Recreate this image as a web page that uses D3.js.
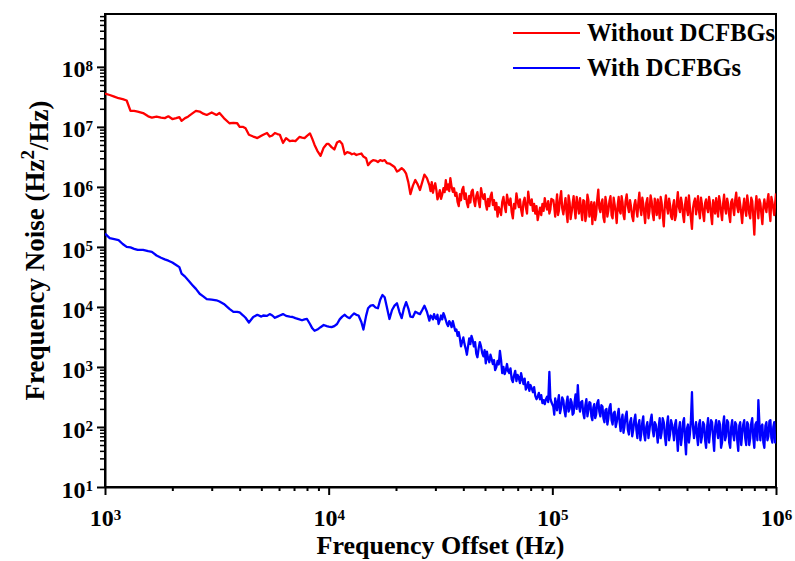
<!DOCTYPE html>
<html>
<head>
<meta charset="utf-8">
<script src="https://cdn.jsdelivr.net/npm/d3@7"></script>
<style>
  body { margin: 0; background: #fff; }
  svg text { font-family: "Liberation Serif", "Times New Roman", serif; font-weight: bold; fill: #000; }
</style>
</head>
<body>
<div id="chart"></div>
<script>
// frequency offset samples (Hz), shared by both traces
const freq_hz = [
    1000, 1050, 1100, 1150, 1200, 1250, 1300, 1350, 1400, 1480,
    1560, 1620, 1700, 1780, 1850, 1920, 2000, 2080, 2150, 2200,
    2280, 2350, 2450, 2550, 2650, 2750, 2850, 3000, 3150, 3250,
    3400, 3600, 3750, 3900, 4000, 4150, 4250, 4400, 4600, 4800,
    5000, 5100, 5300, 5450, 5600, 5750, 5900, 6050, 6250, 6450,
    6700, 6900, 7100, 7400, 7600, 7800, 8000, 8250, 8450, 8650,
    8900, 9200, 9500, 9800,
    10000, 10300, 10600, 10900, 11200, 11500, 11800, 12100, 12400, 12700,
    13000, 13300, 13600, 14000, 14300, 14700, 15000, 15400, 15800, 16200,
    16600, 17000, 17400, 17800, 18200, 18700, 19200, 19700, 20200, 20700,
    21200, 21700, 22200, 22700, 23200, 23800, 24400, 25000, 25600, 26200,
    26800, 27500, 28200, 28900, 29600, 30300, 31000, 31800, 32600, 33400,
    34200, 35000, 35900, 36800, 37700, 38600, 39500, 40500, 41500, 42500,
    43500, 44600, 45700, 46800, 48000, 49200, 50400, 51600, 52900, 54200,
    55500, 56900, 58300, 59700, 61200, 62700, 64200, 65800, 67400, 69100,
    70800, 72500, 74300, 76100, 78000, 79900, 81900, 83900, 86000, 88100,
    90300, 92500, 94700, 97000, 99000,
    101000, 103000, 105000, 107000, 109500, 112000, 114500, 117000, 119500, 122000,
    124500, 127000, 130000, 133000, 136000, 139000, 142000, 145000, 148000, 151000,
    154000, 157000, 160500, 164000, 167500, 171000, 174500, 178000, 182000, 186000,
    190000, 194000, 198000, 202000, 206000, 210000, 215000, 220000, 225000, 230000,
    235000, 240000, 245000, 250000, 255000, 260000, 266000, 272000, 278000, 284000,
    290000, 296000, 302000, 308000, 315000, 322000, 329000, 336000, 343000, 350000,
    357000, 364000, 372000, 380000, 388000, 396000, 404000, 412000, 421000, 430000,
    439000, 448000, 457000, 467000, 477000, 487000, 497000, 507000, 518000, 529000,
    540000, 551000, 562000, 574000, 586000, 598000, 611000, 624000, 637000, 650000,
    664000, 678000, 692000, 706000, 721000, 736000, 751000, 767000, 783000, 800000,
    817000, 834000, 851000, 869000, 887000, 906000, 925000, 944000, 963000, 982000,
    1000000
];

// frequency noise without DCFBGs (Hz^2/Hz)
const noise_without = [
    3.6e7, 3.4e7, 3.2e7, 3.0e7, 2.9e7, 2.75e7, 1.85e7, 1.85e7, 1.8e7, 1.7e7,
    1.5e7, 1.43e7, 1.48e7, 1.43e7, 1.4e7, 1.5e7, 1.35e7, 1.4e7, 1.45e7, 1.26e7,
    1.4e7, 1.48e7, 1.66e7, 1.85e7, 1.8e7, 1.66e7, 1.58e7, 1.74e7, 1.58e7, 1.7e7,
    1.4e7, 1.15e7, 1.17e7, 1.15e7, 1.0e7, 1.0e7, 9.5e6, 7.4e6, 6.9e6, 6.5e6,
    7.1e6, 7.4e6, 7.9e6, 6.9e6, 7.2e6, 7.9e6, 7.6e6, 7.4e6, 5.4e6, 6.5e6,
    5.8e6, 5.9e6, 5.8e6, 6.8e6, 6.6e6, 6.5e6, 7.1e6, 7.8e6, 6.3e6, 5.0e6,
    4.0e6, 3.3e6, 4.5e6, 5.2e6,
    5.2e6, 4.6e6, 4.2e6, 5.5e6, 5.8e6, 5.2e6, 3.5e6, 3.8e6, 3.7e6, 3.5e6,
    3.6e6, 3.4e6, 3.5e6, 3.6e6, 3.2e6, 3.0e6, 2.3e6, 2.6e6, 2.8e6, 2.75e6,
    2.6e6, 2.8e6, 2.7e6, 2.8e6, 2.5e6, 2.45e6, 2.3e6, 2.15e6, 1.8e6, 1.9e6,
    2.05e6, 1.9e6, 1.66e6, 1.2e6, 7.6e5, 1.05e6, 1.3e6, 1.1e6, 8.9e5, 1.2e6,
    1.6e6, 1.4e6, 1.07e6, 1.2e6, 1.0e6, 8.9e5, 7.1e5, 6.3e5, 9.5e5, 1.3e6,
    1.1e6, 1.4e6, 8.3e5, 7.1e5, 5.6e5, 7.6e5, 8.9e5, 6.3e5, 5.4e5, 7.1e5,
    8.3e5, 6.0e5, 7.1e5, 5.8e5, 9.5e5, 6.3e5, 5.2e5, 6.3e5, 6.9e5, 5.0e5,
    4.2e5, 3.2e5, 4.0e5, 5.6e5, 4.8e5, 7.4e5, 5.0e5, 3.8e5, 5.2e5, 7.8e5,
    4.6e5, 4.2e5, 5.6e5, 4.6e5, 8.3e5, 5.0e5, 4.0e5, 3.6e5, 2.8e5, 4.5e5,
    5.2e5, 6.5e5, 4.2e5, 3.6e5, 6.3e5,
    6.0e5, 3.2e5, 7.5e5, 4.0e5, 8.5e5, 3.5e5, 6.5e5, 2.6e5, 5.5e5, 3.8e5,
    7.0e5, 3.0e5, 5.0e5, 6.5e5, 2.8e5, 5.8e5, 3.4e5, 6.0e5, 4.2e5, 2.4e5,
    5.5e5, 3.5e5, 9.0e5, 3.8e5, 6.2e5, 2.6e5, 5.2e5, 4.0e5, 7.0e5, 3.0e5,
    5.0e5, 2.5e5, 6.8e5, 3.6e5, 5.5e5, 2.9e5, 7.5e5, 3.8e5, 4.6e5, 2.7e5,
    6.0e5, 3.2e5, 8.0e5, 3.4e5, 5.2e5, 2.5e5, 6.5e5, 4.0e5, 5.8e5, 2.8e5,
    4.8e5, 6.2e5, 3.0e5, 5.5e5, 2.2e5, 7.2e5, 3.6e5, 5.0e5, 2.9e5, 6.0e5,
    3.3e5, 8.2e5, 3.8e5, 5.2e5, 2.6e5, 6.6e5, 3.4e5, 4.6e5, 2.0e5, 5.6e5,
    3.5e5, 7.0e5, 3.0e5, 5.0e5, 2.7e5, 6.2e5, 3.8e5, 5.4e5, 2.4e5, 4.8e5,
    6.5e5, 3.2e5, 5.6e5, 2.8e5, 7.4e5, 3.6e5, 5.2e5, 2.6e5, 6.2e5, 3.4e5,
    8.0e5, 3.8e5, 5.0e5, 2.5e5, 6.4e5, 3.3e5, 5.4e5, 3.0e5, 5.8e5, 1.6e5,
    7.0e5, 3.0e5, 5.4e5, 2.4e5, 6.2e5, 3.8e5, 7.6e5, 2.7e5, 5.6e5, 3.4e5,
    7.8e5
];

// frequency noise with DCFBGs (Hz^2/Hz)
const noise_with = [
    1.66e5, 1.4e5, 1.35e5, 1.3e5, 1.12e5, 1.0e5, 9.8e4, 9.3e4, 8.9e4, 8.9e4,
    8.5e4, 8.3e4, 7.2e4, 6.6e4, 6.2e4, 5.9e4, 5.5e4, 5.0e4, 4.6e4, 3.6e4,
    3.2e4, 2.8e4, 2.35e4, 2.0e4, 1.66e4, 1.5e4, 1.35e4, 1.32e4, 1.29e4, 1.23e4,
    1.12e4, 9.3e3, 8.3e3, 8.3e3, 8.1e3, 7.2e3, 6.6e3, 5.5e3, 6.8e3, 7.4e3,
    6.9e3, 7.2e3, 7.1e3, 7.6e3, 7.2e3, 6.6e3, 6.9e3, 7.2e3, 7.6e3, 7.1e3,
    6.9e3, 6.8e3, 6.5e3, 6.2e3, 6.0e3, 6.2e3, 6.3e3, 5.2e3, 4.4e3, 4.0e3,
    4.2e3, 4.6e3, 5.0e3, 4.8e3,
    4.7e3, 4.6e3, 4.8e3, 5.2e3, 6.2e3, 6.9e3, 7.4e3, 6.8e3, 6.5e3, 7.2e3,
    7.8e3, 7.4e3, 7.2e3, 5.6e3, 4.2e3, 7.1e3, 9.5e3, 1.05e4, 1.07e4, 9.8e3,
    9.5e3, 1.32e4, 1.58e4, 1.45e4, 1.0e4, 6.3e3, 8.9e3, 1.05e4, 1.15e4, 8.3e3,
    6.5e3, 9.5e3, 1.2e4, 9.5e3, 6.9e3, 6.8e3, 8.3e3, 7.9e3, 7.6e3, 8.9e3,
    1.05e4, 8.3e3, 5.9e3, 6.9e3, 7.6e3, 6.3e3, 5.2e3, 7.2e3, 7.9e3, 6.0e3,
    4.8e3, 5.4e3, 5.8e3, 4.0e3, 3.3e3, 3.0e3, 2.6e3, 2.4e3, 1.6e3, 3.0e3,
    3.3e3, 2.2e3, 1.66e3, 2.0e3, 2.2e3, 1.5e3, 1.15e3, 1.4e3, 1.6e3, 1.12e3,
    8.9e2, 1.26e3, 1.86e3, 7.9e2, 7.6e2, 1.12e3, 7.9e2, 6.3e2, 7.2e2, 5.8e2,
    6.6e2, 7.9e2, 5.2e2, 4.2e2, 5.6e2, 5.0e2, 3.8e2, 3.3e2, 3.2e2, 2.9e2,
    2.5e2, 2.4e2, 3.2e2, 8.3e2, 2.6e2,
    2.2e2, 3.0e2, 1.9e2, 3.4e2, 2.1e2, 2.8e2, 1.5e2, 3.2e2, 2.0e2, 2.6e2,
    1.7e2, 3.5e2, 5.0e2, 1.8e2, 2.7e2, 1.4e2, 2.9e2, 1.9e2, 2.5e2, 1.3e2,
    2.4e2, 1.6e2, 2.8e2, 1.5e2, 2.2e2, 1.2e2, 2.0e2, 1.4e2, 2.4e2, 1.1e2,
    1.8e2, 1.2e2, 2.0e2, 8.5e1, 1.6e2, 1.0e2, 1.8e2, 7.5e1, 1.4e2, 9.0e1,
    1.6e2, 6.5e1, 1.3e2, 8.0e1, 1.5e2, 6.0e1, 1.2e2, 9.0e1, 1.6e2, 7.0e1,
    1.1e2, 5.5e1, 1.4e2, 8.0e1, 1.2e2, 5.0e1, 1.5e2, 7.5e1, 1.1e2, 6.0e1,
    1.3e2, 4.0e1, 1.2e2, 7.0e1, 1.4e2, 3.5e1, 1.1e2, 7.5e1, 3.8e2, 6.5e1,
    1.2e2, 5.0e1, 1.3e2, 7.0e1, 1.1e2, 4.5e1, 1.4e2, 8.0e1, 1.2e2, 4.0e1,
    1.3e2, 6.5e1, 1.1e2, 5.5e1, 1.5e2, 7.0e1, 1.2e2, 4.5e1, 1.3e2, 6.0e1,
    1.1e2, 4.0e1, 1.2e2, 7.5e1, 1.3e2, 5.0e1, 1.1e2, 6.5e1, 1.4e2, 4.5e1,
    1.2e2, 2.8e2, 6.0e1, 1.1e2, 4.5e1, 1.2e2, 7.0e1, 1.3e2, 5.5e1, 1.2e2,
    7.5e1
];

// extra samples in between, where both traces are noisy (Hz)
const freq_hz_fill = [
    28550, 29250, 29950, 30650, 31400, 32200, 33000, 33800, 34600, 35450,
    36350, 37250, 38150, 39050, 40000, 41000, 42000, 43000, 44050, 45150,
    46250, 47400, 48600, 49800, 51000, 52250, 53550, 54850, 56200, 57600,
    59000, 60450, 61950, 63450, 65000, 66600, 68250, 69950, 71650, 73400,
    75200, 77050, 78950, 80900, 82900, 84950, 87050, 89200, 91400, 93600,
    95850, 98000,
    102000, 104000, 106000, 108200, 110700, 113200, 115700, 118200, 120700, 123200,
    125700, 128500, 131500, 134500, 137500, 140500, 143500, 146500, 149500, 152500,
    155500, 158700, 162200, 165700, 169200, 172700, 176200, 180000, 184000, 188000,
    192000, 196000, 200000, 204000, 208000, 212500, 217500, 222500, 227500, 232500,
    237500, 242500, 247500, 252500, 257500, 263000, 269000, 275000, 281000, 287000,
    293000, 299000, 305000, 311500, 318500, 325500, 332500, 339500, 346500, 353500,
    360500, 368000, 376000, 384000, 392000, 400000, 408000, 416500, 425500, 434500,
    443500, 452500, 462000, 472000, 482000, 492000, 502000, 512500, 523500, 534500,
    545500, 556500, 568000, 580000, 592000, 604500, 617500, 630500, 643500, 657000,
    671000, 685000, 699000, 713500, 728500, 743500, 759000, 775000, 791500, 808500,
    825500, 842500, 860000, 878000, 896500, 915500, 934500, 953500, 972500, 991000
];

const noise_without_fill = [
    8.5e5, 8.0e5, 1.15e6, 6.2e5, 8.8e5, 7.5e5, 8.2e5, 9.0e5, 8.5e5, 1.0e6,
    9.5e5, 8.0e5, 4.8e5, 6.0e5, 1.0e6, 7.8e5, 4.6e5, 5.5e5, 9.0e5, 4.8e5,
    8.2e5, 4.6e5, 7.2e5, 7.6e5, 4.2e5, 4.8e5, 8.0e5, 6.0e5, 5.4e5, 4.6e5,
    3.4e5, 6.8e5, 3.8e5, 5.8e5, 6.4e5, 3.0e5, 4.4e5, 5.8e5, 6.2e5, 3.3e5,
    6.6e5, 3.6e5, 5.8e5, 6.2e5, 5.2e5, 4.8e5, 3.6e5, 3.4e5, 4.0e5, 5.0e5,
    5.8e5, 4.2e5,
    4.6e5, 5.0e5, 3.4e5, 6.2e5, 4.4e5, 4.8e5, 3.8e5, 7.2e5, 2.9e5, 5.2e5,
    4.4e5, 6.8e5, 3.6e5, 4.2e5, 6.0e5, 2.7e5, 7.4e5, 3.2e5, 5.6e5, 4.6e5,
    2.8e5, 6.0e5, 4.4e5, 5.4e5, 3.1e5, 6.8e5, 3.2e5, 5.8e5, 3.4e5, 6.6e5,
    3.8e5, 5.0e5, 4.0e5, 7.0e5, 3.4e5, 5.8e5, 4.8e5, 6.0e5, 3.2e5, 5.0e5,
    4.2e5, 5.6e5, 4.4e5, 6.6e5, 3.6e5, 5.4e5, 3.0e5, 7.2e5, 3.6e5, 6.4e5,
    3.4e5, 4.4e5, 6.8e5, 3.4e5, 5.0e5, 4.6e5, 6.4e5, 3.2e5, 4.8e5, 2.8e5,
    5.6e5, 4.6e5, 6.6e5, 3.4e5, 5.0e5, 4.2e5, 7.2e5, 3.0e5, 4.4e5, 6.4e5,
    4.8e5, 4.0e5, 6.6e5, 3.6e5, 5.4e5, 4.4e5, 6.8e5, 3.4e5, 6.0e5, 3.6e5,
    4.6e5, 7.0e5, 3.8e5, 5.2e5, 4.4e5, 6.4e5, 3.4e5, 5.6e5, 4.4e5, 6.0e5,
    4.6e5, 6.6e5, 3.6e5, 4.6e5, 4.2e5, 7.2e5, 3.6e5, 6.6e5, 3.2e5, 4.4e5,
    4.8e5, 6.2e5, 3.6e5, 4.6e5, 4.6e5, 5.8e5, 4.0e5, 6.8e5, 4.4e5, 5.2e5
];

const noise_with_fill = [
    7.2e3, 6.2e3, 6.6e3, 7.4e3, 6.0e3, 6.2e3, 7.0e3, 5.2e3, 5.8e3, 4.6e3,
    4.8e3, 4.2e3, 3.8e3, 2.2e3, 3.1e3, 2.0e3, 2.2e3, 2.4e3, 2.8e3, 2.6e3,
    1.45e3, 2.6e3, 1.7e3, 1.9e3, 1.8e3, 1.2e3, 1.35e3, 1.3e3, 1.0e3, 1.1e3,
    1.3e3, 1.0e3, 8.8e2, 8.5e2, 9.5e2, 5.6e2, 8.6e2, 7.4e2, 5.4e2, 6.3e2,
    6.4e2, 4.6e2, 4.0e2, 4.4e2, 4.6e2, 2.9e2, 3.7e2, 3.4e2, 2.8e2, 2.9e2,
    2.6e2, 3.0e2,
    1.6e2, 2.4e2, 2.7e2, 1.7e2, 3.1e2, 1.9e2, 2.5e2, 1.8e2, 2.9e2, 1.6e2,
    2.6e2, 2.0e2, 2.3e2, 2.6e2, 1.7e2, 2.3e2, 1.5e2, 2.6e2, 1.5e2, 2.1e2,
    1.4e2, 2.5e2, 1.8e2, 2.3e2, 1.4e2, 1.9e2, 1.1e2, 2.1e2, 1.3e2, 1.7e2,
    1.0e2, 1.6e2, 1.2e2, 1.3e2, 8.0e1, 1.5e2, 9.0e1, 1.2e2, 7.0e1, 1.3e2,
    9.0e1, 1.1e2, 6.0e1, 1.2e2, 7.5e1, 1.0e2, 6.5e1, 1.3e2, 9.0e1, 1.2e2,
    8.0e1, 1.0e2, 6.5e1, 1.4e2, 7.0e1, 1.1e2, 6.0e1, 1.3e2, 8.5e1, 1.1e2,
    7.0e1, 9.0e1, 5.0e1, 1.2e2, 6.0e1, 9.5e1, 5.5e1, 1.3e2, 1.0e2, 9.5e1,
    7.0e1, 1.1e2, 5.5e1, 1.2e2, 6.0e1, 1.0e2, 5.5e1, 1.3e2, 6.5e1, 1.0e2,
    8.5e1, 1.25e2, 4.5e1, 1.1e2, 6.0e1, 1.3e2, 5.5e1, 1.0e2, 7.5e1, 1.2e2,
    6.0e1, 1.05e2, 5.0e1, 1.1e2, 6.5e1, 1.2e2, 5.0e1, 1.15e2, 6.5e1, 1.1e2,
    6.0e1, 1.2e2, 1.0e2, 5.5e1, 1.05e2, 6.0e1, 1.25e2, 6.5e1, 1.0e2, 5.5e1
];

const series_names = ['Without DCFBGs', 'With DCFBGs'];
const series_colors = ['#ff0000', '#0000ff'];
const x_ticks = [1e3, 1e4, 1e5, 1e6];
const y_ticks = [1e1, 1e2, 1e3, 1e4, 1e5, 1e6, 1e7, 1e8];

const chart_width = 795;
const chart_height = 561;
const margin = { top: 14, right: 19, bottom: 74, left: 105 };
const plot_right = chart_width - margin.right;
const plot_bottom = chart_height - margin.bottom;

const svg = d3.select('#chart')
    .append('svg')
    .attr('width', chart_width)
    .attr('height', chart_height);

// scales
const x_scale = d3.scaleLog()
    .domain([1e3, 1e6])
    .range([margin.left, plot_right]);

const y_scale = d3.scaleLog()
    .domain([10, 7.6e8])
    .range([plot_bottom, margin.top]);

// minor ticks 2..9 per decade
const minor = (lo, hi) => {
    const out = [];
    for (let e = lo; e <= hi; e++) {
        for (let k = 2; k <= 9; k++) out.push(k * Math.pow(10, e));
    }
    return out;
};
const x_minor = minor(3, 5);
const y_minor = minor(1, 8).filter(v => v <= y_scale.domain()[1]);

function sup_label(text, d) {
    const exp = Math.round(Math.log10(d));
    text.text(null);
    text.append('tspan').text('10');
    text.append('tspan')
        .attr('dy', '-0.42em')
        .attr('font-size', '15px')
        .text(exp);
}

// x axis
svg.append('g')
    .attr('transform', `translate(0,${plot_bottom})`)
    .call(d3.axisBottom(x_scale).tickValues(x_minor).tickSize(4).tickSizeOuter(0).tickFormat(''))
    .call(g => g.select('.domain').remove())
    .selectAll('line').attr('stroke-width', 2);

const gx = svg.append('g')
    .attr('transform', `translate(0,${plot_bottom})`)
    .call(d3.axisBottom(x_scale).tickValues(x_ticks).tickSize(8).tickSizeOuter(0));
gx.selectAll('line').attr('stroke-width', 2);
gx.select('.domain').attr('stroke-width', 2);
gx.selectAll('.tick text')
    .attr('y', 39)
    .attr('dy', null)
    .attr('font-size', 24)
    .each(function (d) { sup_label(d3.select(this), d); });

// y axis
svg.append('g')
    .attr('transform', `translate(${margin.left},0)`)
    .call(d3.axisLeft(y_scale).tickValues(y_minor).tickSize(5).tickSizeOuter(0).tickFormat(''))
    .call(g => g.select('.domain').remove())
    .selectAll('line').attr('stroke-width', 1.5);

const gy = svg.append('g')
    .attr('transform', `translate(${margin.left},0)`)
    .call(d3.axisLeft(y_scale).tickValues(y_ticks).tickSize(8).tickSizeOuter(0));
gy.selectAll('line').attr('stroke-width', 2);
gy.select('.domain').attr('stroke-width', 2);
gy.selectAll('.tick text')
    .attr('x', -12)
    .attr('dy', '0.42em')
    .attr('font-size', 24)
    .each(function (d) { sup_label(d3.select(this), d); });

// frame
svg.append('rect')
    .attr('x', margin.left)
    .attr('y', margin.top)
    .attr('width', plot_right - margin.left)
    .attr('height', plot_bottom - margin.top)
    .attr('fill', 'none')
    .attr('stroke', '#000')
    .attr('stroke-width', 2);

// traces
svg.append('clipPath').attr('id', 'plot-clip')
    .append('rect')
    .attr('x', margin.left)
    .attr('y', margin.top)
    .attr('width', plot_right - margin.left)
    .attr('height', plot_bottom - margin.top);

const line = d3.line()
    .x(d => x_scale(d[0]))
    .y(d => y_scale(d[1]));

const merge = (f, v, f2, v2) => d3.zip(f, v).concat(d3.zip(f2, v2)).sort((a, b) => a[0] - b[0]);
const traces = [
    merge(freq_hz, noise_without, freq_hz_fill, noise_without_fill),
    merge(freq_hz, noise_with, freq_hz_fill, noise_with_fill)
];

svg.append('g')
    .attr('clip-path', 'url(#plot-clip)')
    .selectAll('path')
    .data(traces)
    .enter()
    .append('path')
    .attr('d', line)
    .attr('fill', 'none')
    .attr('stroke', (d, i) => series_colors[i])
    .attr('stroke-width', 2.3)
    .attr('stroke-linejoin', 'round');

// legend
const legend = svg.append('g')
    .selectAll('g')
    .data(series_names)
    .enter()
    .append('g')
    .attr('transform', (d, i) => `translate(513,${33 + i * 35})`);

legend.append('line')
    .attr('x1', 0)
    .attr('x2', 67)
    .attr('stroke', (d, i) => series_colors[i])
    .attr('stroke-width', 2);

legend.append('text')
    .attr('x', 74)
    .attr('y', 8)
    .attr('font-size', 24.5)
    .text(d => d);

// axis titles
svg.append('text')
    .attr('x', (margin.left + plot_right) / 2)
    .attr('y', 554)
    .attr('text-anchor', 'middle')
    .attr('font-size', 26)
    .text('Frequency Offset (Hz)');

const y_title = svg.append('text')
    .attr('transform', `translate(44,${(margin.top + plot_bottom) / 2}) rotate(-90)`)
    .attr('text-anchor', 'middle')
    .attr('font-size', 27);
y_title.append('tspan').text('Frequency Noise (Hz');
y_title.append('tspan').attr('dy', '-0.55em').attr('font-size', '19px').text('2');
y_title.append('tspan').attr('dy', '0.55em').text('/Hz)');
</script>
</body>
</html>
